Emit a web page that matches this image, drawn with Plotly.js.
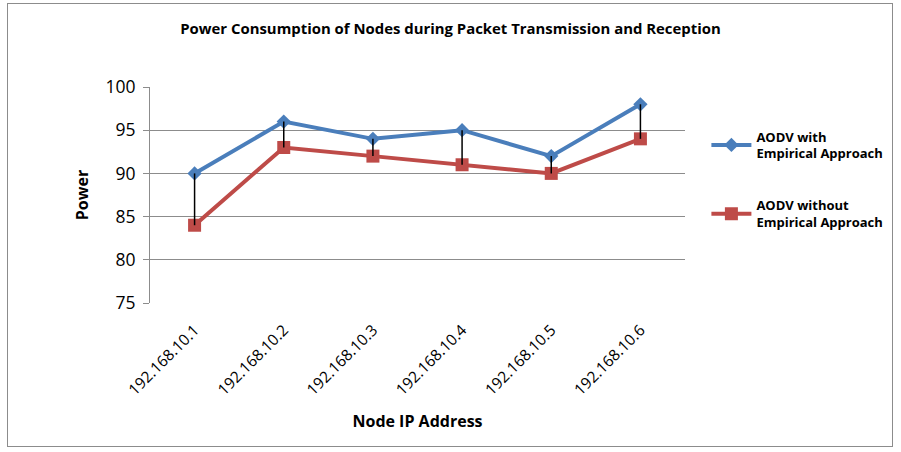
<!DOCTYPE html>
<html>
<head>
<meta charset="utf-8">
<script src="https://cdn.plot.ly/plotly-3.0.1.min.js"></script>
<style>
  html, body { margin: 0; padding: 0; background: #ffffff; }
  #wrap { position: relative; width: 901px; height: 452px; }
  #chart { position: absolute; left: 0; top: 0; width: 901px; height: 452px; }
  #frame { position: absolute; left: 7px; top: 3px; width: 884px; height: 442px;
           border: 1px solid #8c8c8c; pointer-events: none; }
</style>
</head>
<body>
<div id="wrap">
  <div id="chart"></div>
  <div id="frame"></div>
</div>
<script>
// Node addresses on the category axis
const nodes = ["192.168.10.1", "192.168.10.2", "192.168.10.3",
               "192.168.10.4", "192.168.10.5", "192.168.10.6"];
// Power per node, with and without the empirical approach
const powerWith = [90, 96, 94, 95, 92, 98];
const powerWithout = [84, 93, 92, 91, 90, 94];
// Series names shown in the legend
const nameWith = "<b>AODV with<br>Empirical Approach</b>";
const nameWithout = "<b>AODV without<br>Empirical Approach</b>";
// Y axis ticks
const yTicks = [75, 80, 85, 90, 95, 100];

const FONT = "Open Sans, Liberation Sans, sans-serif";

// High-low connectors between the two series at each node
const hlX = [], hlY = [];
nodes.forEach((n, i) => {
  hlX.push(n, n, null);
  hlY.push(powerWith[i], powerWithout[i], null);
});

const traces = [
  {
    x: nodes, y: powerWith, name: nameWith, legendgroup: "with",
    type: "scatter", mode: "lines+markers",
    line: { color: "#4a7ebb", width: 4 },
    marker: { symbol: "diamond", size: 11, color: "#4a7ebb" }
  },
  {
    x: nodes, y: powerWithout, name: nameWithout, legendgroup: "without",
    type: "scatter", mode: "lines+markers",
    line: { color: "#be4b48", width: 4 },
    marker: { symbol: "square", size: 13, color: "#be4b48" }
  },
  {
    x: hlX, y: hlY, type: "scatter", mode: "lines", showlegend: false,
    hoverinfo: "skip", line: { color: "#000000", width: 1.5 }
  }
];

const layout = {
  width: 901, height: 452,
  margin: { l: 150, r: 216, t: 87, b: 149 },
  paper_bgcolor: "#ffffff", plot_bgcolor: "#ffffff",
  font: { family: FONT, color: "#000000" },
  title: {
    text: "<b>Power Consumption of Nodes during Packet Transmission and Reception</b>",
    font: { family: FONT, size: 14.9, color: "#000000" },
    x: 0.5, xref: "container", xanchor: "center",
    y: 1, yref: "container", yanchor: "top", pad: { t: 24 }
  },
  xaxis: {
    type: "category", range: [-0.5, 5.5],
    showgrid: false, zeroline: false,
    showline: false, ticks: "",
    tickangle: -45, tickfont: { family: FONT, size: 15.5 },
    ticklabelstandoff: 14,
    title: { text: "<b>Node IP Address</b>", font: { family: FONT, size: 16 }, standoff: 16 }
  },
  yaxis: {
    range: [75, 100], tickvals: yTicks, ticktext: yTicks.map(String),
    showgrid: true, gridcolor: "#8c8c8c", gridwidth: 1,
    zeroline: false, showline: true, linecolor: "#8c8c8c", linewidth: 1,
    ticks: "outside", ticklen: 6, tickcolor: "#8c8c8c",
    tickfont: { family: FONT, size: 17.5 },
    ticklabelstandoff: 4,
    title: { text: "<b>Power</b>", font: { family: FONT, size: 16 }, standoff: 12 }
  },
  legend: {
    x: 1.04, xanchor: "left", y: 0.84, yanchor: "top",
    font: { family: FONT, size: 13, color: "#000000" },
    tracegroupgap: 32, itemwidth: 40, bgcolor: "rgba(0,0,0,0)"
  },
  showlegend: true
};

Plotly.newPlot("chart", traces, layout, { displayModeBar: false, staticPlot: true });
</script>
</body>
</html>
